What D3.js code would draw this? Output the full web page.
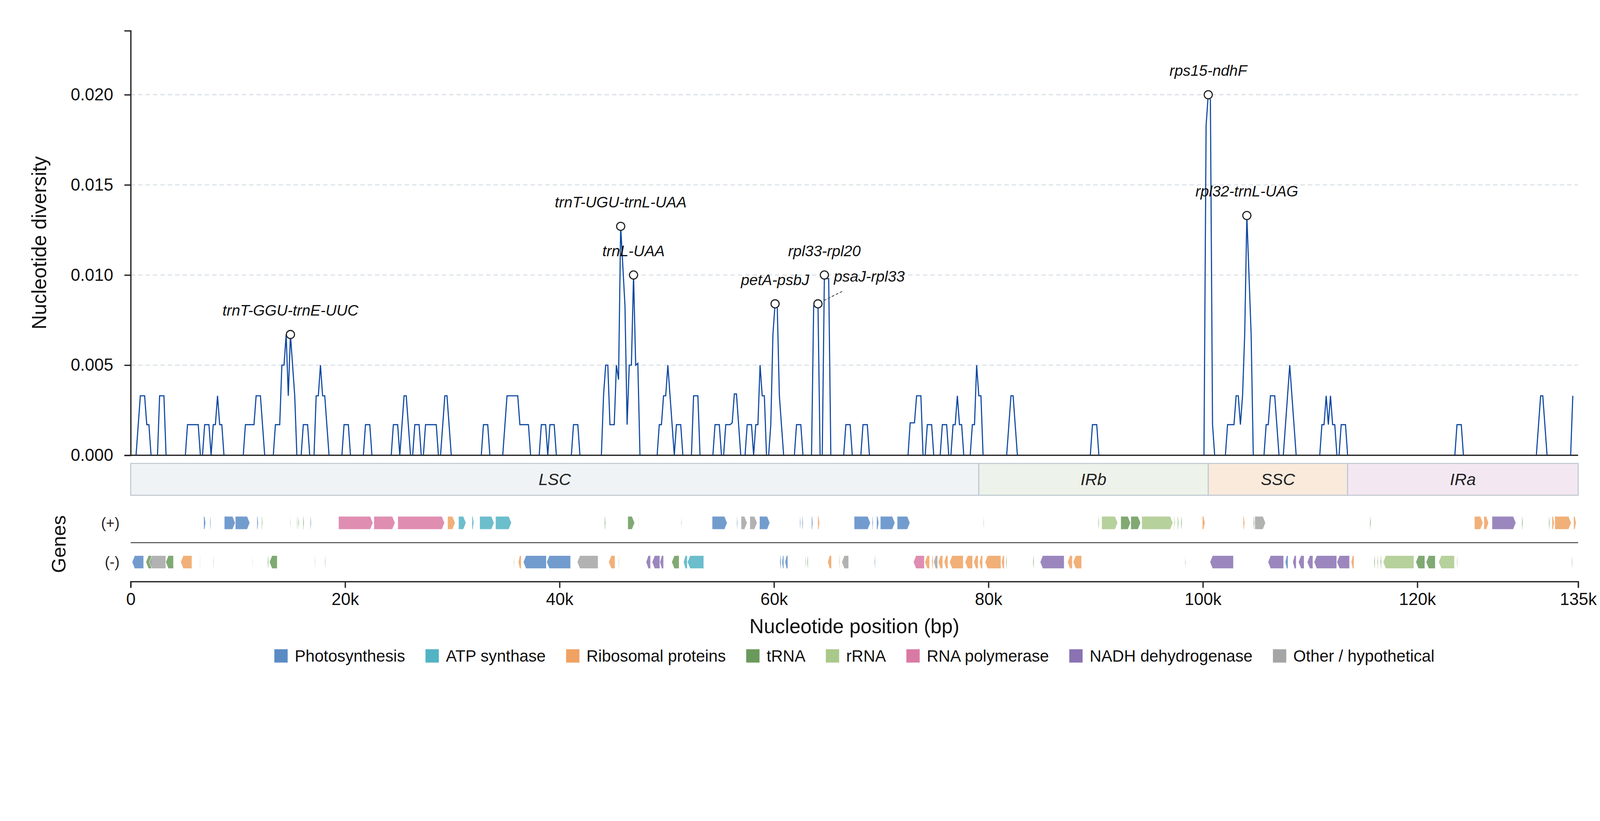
<!DOCTYPE html>
<html><head><meta charset="utf-8">
<script src="https://cdn.jsdelivr.net/npm/d3@7"></script>
<style>html,body{margin:0;padding:0;background:#fff;overflow:hidden;width:100%;height:100%;} svg{display:block;width:100vw;height:100vh;}</style>
</head><body><svg id="chart"></svg>
<script>
// ---------------- DATA ----------------
// Sliding-window nucleotide diversity: window centre (bp) and Pi (polyline vertices)
const positions = [
 300,500,900,1300,1500,1700,1900,2500,2700,3100,3300,5100,5300,6300,6500,6700,6900,7300,7500,7700,7900,8100,8300,8500,8700,
 10500,10700,11500,11700,12100,12500,13300,13500,13900,14100,14300,14500,14700,14900,15300,15500,15900,16100,16500,16700,
 17100,17300,17500,17700,17900,18100,18500,19700,19900,20300,20500,21700,21900,22300,22500,24300,24500,24900,25100,25500,25700,
 26100,26300,26500,26900,27100,27300,27500,28500,28700,28900,29300,29500,29900,32700,32900,33300,33500,
 34700,35100,36100,36300,37100,37300,38100,38300,38700,38900,39100,39500,39700,41100,41300,41700,41900,
 43900,44100,44300,44500,44700,45100,45300,45500,45700,46100,46300,46500,46700,46900,47100,47300,47500,
 49100,49300,49500,49700,49900,50100,50700,50900,51300,51500,52300,52500,52900,53100,54300,54500,54900,55100,
 55300,55500,55900,56100,56300,56500,56900,57300,57500,57900,58100,58300,58500,58700,58900,59100,59300,
 59500,59700,59900,60100,60300,60500,60900,61900,62100,62500,62700,63500,63700,64100,64300,64500,64700,64900,65100,65300,
 66500,66700,67100,67300,68100,68300,68700,68900,72500,72700,73100,73300,73700,73900,74100,74300,74700,74900,
 75500,75700,76100,76300,76500,76700,76900,77100,77300,77500,77700,78300,78500,78700,78900,79100,79300,79500,
 81700,82100,82300,82700,89500,89700,90100,90300,100100,100300,100500,100700,100900,101100,
 102100,102300,102900,103100,103300,103500,103700,103900,104100,104500,104700,105700,105900,106100,106300,106700,107100,
 107500,108100,108700,110900,111100,111300,111500,111700,111900,112100,112300,112500,112700,112900,113300,113500,
 123500,123700,124100,124300,131100,131500,131700,132100,134300,134500
];
const diversity = [
 0,0,0.0033,0.0033,0.0017,0.0017,0,0,0.0033,0.0033,0,0,0.0017,0.0017,0,0,0.0017,0.0017,0,0.0017,0.0017,0.0033,0.0017,0.0017,0,
 0,0.0017,0.0017,0.0033,0.0033,0,0,0.0017,0.0017,0.0050,0.0050,0.0067,0.0033,0.0067,0.0033,0,0,0.0017,0.0017,0,
 0,0.0033,0.0033,0.0050,0.0033,0.0033,0,0,0.0017,0.0017,0,0,0.0017,0.0017,0,0,0.0017,0.0017,0,0.0033,0.0033,
 0,0,0.0017,0.0017,0,0,0.0017,0.0017,0,0,0.0033,0.0033,0,0,0.0017,0.0017,0,
 0,0.0033,0.0033,0.0017,0.0017,0,0,0.0017,0.0017,0,0.0017,0.0017,0,0,0.0017,0.0017,0,
 0,0.0033,0.0050,0.0050,0.0017,0.0017,0.0050,0.0042,0.0127,0.0083,0.0017,0.0050,0.0050,0.0100,0.0050,0.0051,0,
 0,0.0017,0.0017,0.0033,0.0033,0.0050,0,0.0017,0.0017,0,0,0.0033,0.0033,0,0,0.0017,0.0017,0,
 0,0.0017,0.0017,0.0018,0.0034,0.0034,0,0,0.0017,0.0017,0,0.0017,0.0017,0.0050,0.0033,0.0033,0,
 0,0.0017,0.0067,0.0084,0.0083,0.0033,0,0,0.0017,0.0017,0,0,0.0083,0.0084,0,0,0.0100,0.0098,0.0098,0,
 0,0.0017,0.0017,0,0,0.0017,0.0017,0,0,0.0018,0.0018,0.0033,0.0033,0,0,0.0017,0.0017,0,
 0,0.0017,0.0017,0,0,0.0017,0.0017,0.0033,0.0017,0.0017,0,0,0.0017,0.0017,0.0050,0.0033,0.0033,0,
 0,0.0033,0.0033,0,0,0.0017,0.0017,0,0,0.0183,0.0200,0.0197,0.0017,0,
 0,0.0017,0.0017,0.0033,0.0033,0.0017,0.0033,0.0067,0.0133,0.0067,0,0,0.0017,0.0017,0.0033,0.0033,0,
 0,0.0050,0,0,0.0017,0.0017,0.0033,0.0017,0.0033,0.0017,0.0017,0,0,0.0017,0.0017,0,
 0,0.0017,0.0017,0,0,0.0033,0.0033,0,0,0.0033
];

// Annotated hotspots
const peakNames = ['trnT-GGU-trnE-UUC','trnT-UGU-trnL-UAA','trnL-UAA','petA-psbJ','psaJ-rpl33','rpl33-rpl20','rps15-ndhF','rpl32-trnL-UAG'];
const peakPos   = [14900,45700,46900,60100,64100,64700,100500,104100];

// Axis ticks
const yTicks = [0,0.005,0.010,0.015,0.020];
const xTicks = [0,20000,40000,60000,80000,100000,120000,135000];
const xTickLabels = ['0','20k','40k','60k','80k','100k','120k','135k'];

// Genome regions
const regionNames = ['LSC','IRb','SSC','IRa'];
const regionStart = [0,79100,100500,113500];
const regionEnd   = [79100,100500,113500,135000];

// Gene categories
const categories = ['Photosynthesis','ATP synthase','Ribosomal proteins','tRNA','rRNA','RNA polymerase','NADH dehydrogenase','Other / hypothetical'];
const catKeys    = ['photo','atp','ribo','trna','rrna','rpo','ndh','other'];

// Genes on (+) strand
const plusStart = [6810,7400,8730,9760,11780,12220,14860,15500,15620,16080,16750,19390,22680,24910,29560,30580,31830,32550,34030,44200,46360,47350,51330,54230,56530,56930,57750,58650,62400,62630,63500,64080,67480,69160,69570,69920,71490,79540,90240,90560,92340,93280,94300,97320,97640,97960,99950,103760,104720,104840,115580,125330,126210,126970,129750,132270,132560,132820,134580];
const plusEnd   = [6990,7480,9750,11110,11900,12300,14920,15560,15700,16170,16840,22590,24650,29270,30260,31270,32000,33890,35510,44290,47000,47400,51390,55630,56610,57490,58420,59610,62480,62720,63620,64250,68990,69250,69770,71280,72680,79590,90320,92050,93250,94190,97200,97410,97730,98050,100190,103900,104810,105840,115670,126120,126650,129190,129840,132360,132770,134350,134810];
const plusCat   = ['photo','photo','photo','photo','photo','trna','trna','trna','trna','trna','photo','rpo','rpo','rpo','ribo','atp','atp','atp','atp','trna','trna','trna','trna','photo','photo','other','other','photo','photo','photo','photo','ribo','photo','photo','photo','photo','photo','trna','trna','rrna','trna','trna','rrna','rrna','trna','trna','ribo','ribo','trna','other','trna','ribo','ribo','ndh','trna','trna','ribo','ribo','ribo'];

// Genes on (-) strand
const minusStart = [130,1420,1740,3270,4660,6440,7690,11350,12770,12940,17160,18110,35720,36150,36620,38800,41650,44580,45490,48070,48630,49360,50460,51560,51930,60540,60740,61030,62920,63090,65010,66060,66320,69370,73000,74070,74710,74890,75320,75870,76370,77820,78630,79160,79680,81220,81630,84150,84820,87380,87900,98340,100660,106070,107680,108380,108910,109730,110370,112500,113830,115960,116260,116550,116810,119860,120820,121990,123690,134400];
const minusEnd   = [1210,1960,3270,3990,5710,6490,7740,11400,12860,13670,17210,18170,35780,36420,38770,41030,43590,45170,45550,48480,49350,49700,51150,51910,53450,60650,60910,61290,62980,63180,65360,66140,66960,69450,74020,74510,74830,75260,75730,76220,77650,78520,79040,79450,81160,81480,81710,84240,87060,87820,88690,98400,102850,107530,107940,108700,109440,110260,112480,113680,114090,116050,116340,116640,119680,120700,121670,123460,123750,134460];
const minusCat   = ['photo','trna','other','trna','ribo','trna','trna','trna','trna','trna','photo','trna','trna','ribo','photo','photo','other','ribo','trna','ndh','ndh','ndh','trna','atp','atp','photo','photo','photo','trna','trna','ribo','ribo','other','photo','rpo','ribo','ribo','other','ribo','ribo','ribo','ribo','ribo','ribo','ribo','ribo','trna','trna','ndh','ribo','ribo','trna','ndh','ndh','photo','ndh','ndh','ndh','ndh','ndh','ribo','trna','trna','trna','rrna','trna','trna','rrna','trna','trna'];

// ---------------- STYLE / LAYOUT ----------------
const W = 4322, H = 2102;
const FONT = '"Liberation Sans", Arial, Helvetica, sans-serif';
const catColor = {photo:'#5b8bc5', atp:'#52b3c4', ribo:'#f0a262', trna:'#6a9a5b', rrna:'#a9c98a', rpo:'#d97aa5', ndh:'#8a72b3', other:'#a5a5a5'};
const regionFill = {LSC:'#eff3f6', IRb:'#edf2ea', SSC:'#f9eadc', IRa:'#f3e8f2'};

const svg = d3.select('#chart').attr('viewBox', `0 0 ${W} ${H}`)
  .attr('preserveAspectRatio', 'xMidYMin meet').style('font-family', FONT);
svg.append('rect').attr('width', W).attr('height', H).attr('fill', '#fff');

const x = d3.scaleLinear().domain([0, 135000]).range([353, 4263]);
const y = d3.scaleLinear().domain([0, 0.02355]).range([1230, 83]);

// gridlines
svg.append('g').selectAll('line').data(yTicks.filter(d => d > 0)).join('line')
  .attr('x1', x(0)).attr('x2', x(135000))
  .attr('y1', d => y(d)).attr('y2', d => y(d))
  .attr('stroke', '#d3dbe2').attr('stroke-width', 2.5).attr('stroke-dasharray', '12 8');

// diversity line
const pts = positions.map((p, i) => [p, diversity[i]]);
svg.append('path').datum(pts)
  .attr('d', d3.line().x(d => x(d[0])).y(d => y(d[1])))
  .attr('fill', 'none').attr('stroke', '#0d47a1').attr('stroke-width', 3);

// baseline at y=0
svg.append('line').attr('x1', x(0)).attr('x2', x(135000)).attr('y1', y(0)).attr('y2', y(0))
  .attr('stroke', '#222').attr('stroke-width', 3.5);

// y axis
const yAxis = svg.append('g').attr('transform', `translate(${x(0)},0)`)
  .call(d3.axisLeft(y).tickValues(yTicks).tickFormat(d3.format('.3f')).tickSize(17).tickSizeOuter(17).tickPadding(30));
yAxis.select('.domain').attr('stroke', '#222').attr('stroke-width', 3.5);
yAxis.selectAll('.tick line').attr('stroke', '#222').attr('stroke-width', 3.5);
yAxis.selectAll('.tick text').attr('font-size', 46).attr('fill', '#111').attr('font-family', FONT);

svg.append('text').attr('transform', `translate(125,656) rotate(-90)`)
  .attr('text-anchor', 'middle').attr('font-size', 54).attr('fill', '#111').text('Nucleotide diversity');

// peaks
const peakG = svg.append('g');
peakNames.forEach((name, i) => {
  const p = peakPos[i];
  const v = diversity[positions.indexOf(p)];
  const cx = x(p), cy = y(v);
  if (name === 'psaJ-rpl33') {
    peakG.append('line').attr('x1', cx + 16).attr('y1', cy - 9).attr('x2', cx + 68).attr('y2', cy - 35)
      .attr('stroke', '#444').attr('stroke-width', 2.2).attr('stroke-dasharray', '7 5');
    peakG.append('text').attr('x', cx + 43).attr('y', cy - 60).attr('text-anchor', 'start')
      .attr('font-size', 41).attr('font-style', 'italic').attr('fill', '#111').text(name);
  } else {
    peakG.append('text').attr('x', cx).attr('y', cy - 51).attr('text-anchor', 'middle')
      .attr('font-size', 41).attr('font-style', 'italic').attr('fill', '#111').text(name);
  }
  peakG.append('circle').attr('cx', cx).attr('cy', cy).attr('r', 11)
    .attr('fill', '#fff').attr('stroke', '#222').attr('stroke-width', 3);
});

// region bar
const regY = 1252, regH = 86;
const regG = svg.append('g');
regionNames.forEach((r, i) => {
  regG.append('rect').attr('x', x(regionStart[i])).attr('y', regY)
    .attr('width', x(regionEnd[i]) - x(regionStart[i])).attr('height', regH)
    .attr('fill', regionFill[r]).attr('stroke', '#b9c4cd').attr('stroke-width', 2.5);
  regG.append('text').attr('x', (x(regionStart[i]) + x(regionEnd[i])) / 2).attr('y', regY + regH / 2 + 16)
    .attr('text-anchor', 'middle').attr('font-size', 45).attr('font-style', 'italic').attr('fill', '#222').text(r);
});

// genes
function geneShape(s, e, strand, yTop, h) {
  const x0 = x(s), x1 = x(e), w = x1 - x0;
  const head = Math.min(7, w * 0.5), ym = yTop + h / 2, yb = yTop + h;
  if (strand === '+') {
    return `M${x0},${yTop}L${x1 - head},${yTop}L${x1},${ym}L${x1 - head},${yb}L${x0},${yb}Z`;
  }
  return `M${x1},${yTop}L${x0 + head},${yTop}L${x0},${ym}L${x0 + head},${yb}L${x1},${yb}Z`;
}
const geneG = svg.append('g');
const plusTop = 1395, minusTop = 1501, geneH = 35;
plusStart.forEach((s, i) => {
  geneG.append('path').attr('d', geneShape(s, plusEnd[i], '+', plusTop, geneH))
    .attr('fill', catColor[plusCat[i]]).attr('fill-opacity', 0.85).attr('stroke', '#fff').attr('stroke-width', 1);
});
minusStart.forEach((s, i) => {
  geneG.append('path').attr('d', geneShape(s, minusEnd[i], '-', minusTop, geneH))
    .attr('fill', catColor[minusCat[i]]).attr('fill-opacity', 0.85).attr('stroke', '#fff').attr('stroke-width', 1);
});

// strand divider
svg.append('line').attr('x1', x(0)).attr('x2', x(135000)).attr('y1', 1466).attr('y2', 1466)
  .attr('stroke', '#333').attr('stroke-width', 2.5);

svg.append('text').attr('x', 323).attr('y', plusTop + geneH / 2 + 14).attr('text-anchor', 'end')
  .attr('font-size', 40).attr('fill', '#222').text('(+)');
svg.append('text').attr('x', 323).attr('y', minusTop + geneH / 2 + 14).attr('text-anchor', 'end')
  .attr('font-size', 40).attr('fill', '#222').text('(-)');
svg.append('text').attr('transform', `translate(177,1470) rotate(-90)`)
  .attr('text-anchor', 'middle').attr('font-size', 53).attr('fill', '#111').text('Genes');

// x axis
const xAxis = svg.append('g').attr('transform', 'translate(0,1571)')
  .call(d3.axisBottom(x).tickValues(xTicks).tickFormat((d, i) => xTickLabels[i]).tickSize(17).tickSizeOuter(17).tickPadding(14));
xAxis.select('.domain').attr('stroke', '#222').attr('stroke-width', 3.5);
xAxis.selectAll('.tick line').attr('stroke', '#222').attr('stroke-width', 3.5);
xAxis.selectAll('.tick text').attr('font-size', 46).attr('fill', '#111').attr('font-family', FONT);

svg.append('text').attr('x', (x(0) + x(135000)) / 2).attr('y', 1710)
  .attr('text-anchor', 'middle').attr('font-size', 54).attr('fill', '#111').text('Nucleotide position (bp)');

// legend
const legG = svg.append('g');
const sw = 36, gapText = 19, gapItem = 55, legY = 1772;
const items = categories.map((c, i) => {
  const g = legG.append('g');
  g.append('rect').attr('width', sw).attr('height', sw).attr('y', legY - sw / 2).attr('fill', catColor[catKeys[i]]);
  const t = g.append('text').attr('x', sw + gapText).attr('y', legY + 15).attr('font-size', 44).attr('fill', '#111').text(c);
  return {g, w: sw + gapText + t.node().getComputedTextLength()};
});
const totalW = d3.sum(items, d => d.w) + gapItem * (items.length - 1);
let cur = (x(0) + x(135000)) / 2 - totalW / 2;
items.forEach(it => { it.g.attr('transform', `translate(${cur},0)`); cur += it.w + gapItem; });
</script>
</body></html>
